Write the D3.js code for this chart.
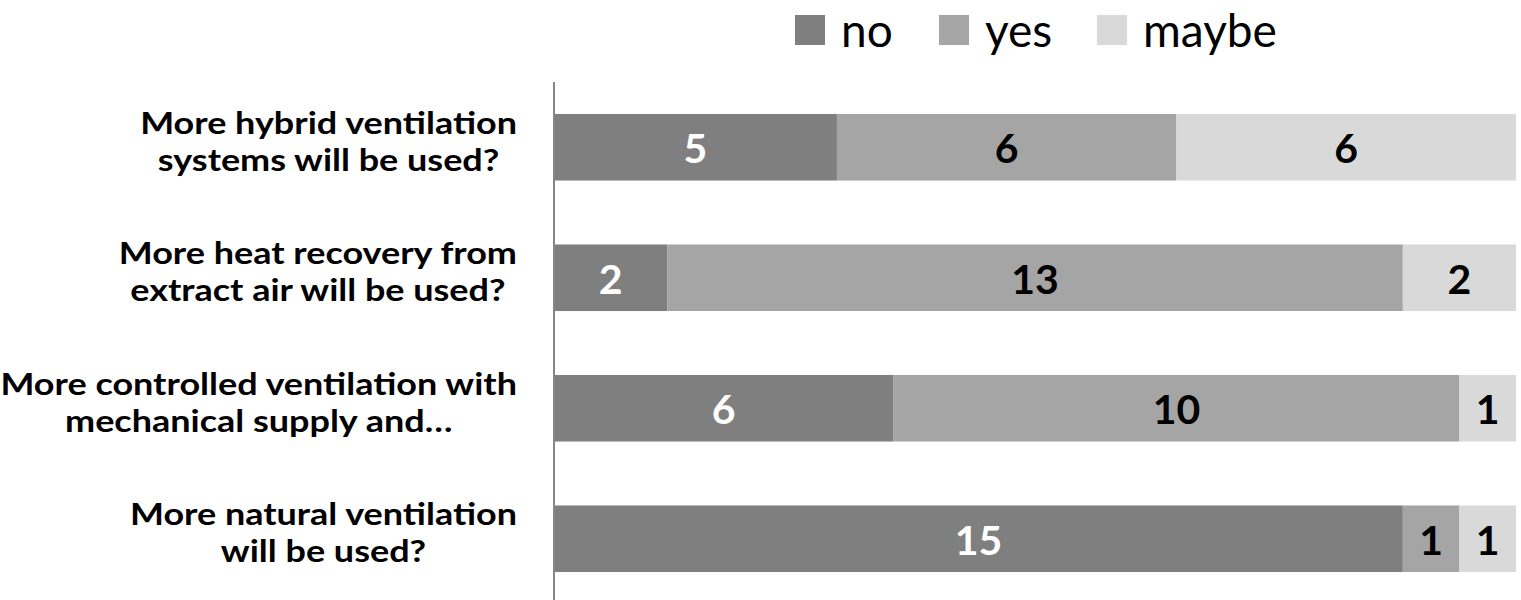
<!DOCTYPE html>
<html>
<head>
<meta charset="utf-8">
<script src="https://cdn.jsdelivr.net/npm/d3@7"></script>
<style>
  html, body { margin: 0; padding: 0; background: #fff; }
  svg { display: block; }
</style>
</head>
<body>
<svg id="chart" width="1521" height="600"></svg>
<script>
// Survey answers per statement
const categories = [
  ["More hybrid ventilation", "systems will be used?"],
  ["More heat recovery from", "extract air will be used?"],
  ["More controlled ventilation with", "mechanical supply and…"],
  ["More natural ventilation", "will be used?"]
];
const seriesNames = ["no", "yes", "maybe"];
const noValues    = [5, 2, 6, 15];
const yesValues   = [6, 13, 10, 1];
const maybeValues = [6, 2, 1, 1];
const xMax = 17;

const colors = { no: "#7f7f7f", yes: "#a5a5a5", maybe: "#d9d9d9" };
const labelColors = { no: "#ffffff", yes: "#000000", maybe: "#000000" };
const FONT = "Lato, 'Open Sans', sans-serif";

const svg = d3.select("#chart");
const plot = { left: 554, right: 1516, top: 82, bottom: 604 };

const rows = categories.map((c, i) => ({
  key: c.join(" "), lines: c,
  no: noValues[i], yes: yesValues[i], maybe: maybeValues[i]
}));

const x = d3.scaleLinear().domain([0, xMax]).range([plot.left, plot.right]);
const y = d3.scaleBand().domain(rows.map(r => r.key))
  .range([plot.top, plot.bottom]).paddingInner(0.49).paddingOuter(0.245);

const stack = d3.stack().keys(seriesNames)(rows);

// stacked segments
const layers = svg.append("g").selectAll("g").data(stack).join("g")
  .attr("fill", d => colors[d.key]);
layers.selectAll("rect").data(d => d.map(p => ({ p, key: d.key }))).join("rect")
  .attr("x", d => x(d.p[0]))
  .attr("y", d => y(d.p.data.key))
  .attr("width", d => x(d.p[1]) - x(d.p[0]))
  .attr("height", y.bandwidth());

// value labels
const lbl = svg.append("g").attr("font-family", FONT).attr("font-weight", 700)
  .attr("font-size", 41).attr("text-anchor", "middle");
stack.forEach(layer => {
  layer.forEach(p => {
    const v = p[1] - p[0];
    lbl.append("text")
      .attr("x", (x(p[0]) + x(p[1])) / 2)
      .attr("y", y(p.data.key) + y.bandwidth() / 2 + 16)
      .attr("fill", labelColors[layer.key])
      .text(v);
  });
});

// category axis
svg.append("g").attr("transform", `translate(${plot.left},0)`)
  .call(d3.axisLeft(y).tickSize(0).tickFormat(""))
  .call(g => g.select(".domain").attr("stroke", "#868686").attr("stroke-width", 2)
    .attr("d", `M0,${plot.top}V${plot.bottom}`));

// wrapped category labels, centred as a block ending near the axis
// (slightly widened glyphs to mimic a broad bold face)
const labelRight = 517, lineGap = 37, widen = 1.18;
const catG = svg.append("g")
  .attr("transform", `translate(${labelRight},0) scale(${widen},1)`)
  .attr("font-family", FONT).attr("font-weight", 700)
  .attr("font-size", 30.5).attr("fill", "#000").attr("text-anchor", "middle");
rows.forEach(r => {
  const cy = y(r.key) + y.bandwidth() / 2;
  const texts = r.lines.map((ln, j) => catG.append("text")
    .attr("y", cy + (j - (r.lines.length - 1) / 2) * lineGap + 5).text(ln));
  const w = d3.max(texts, t => t.node().getComputedTextLength());
  texts.forEach(t => t.attr("x", -w / 2));
});

// legend
const legend = svg.append("g").attr("font-family", FONT).attr("font-size", 46);
const legendX = [795, 939, 1097];
seriesNames.forEach((s, i) => {
  legend.append("rect").attr("x", legendX[i]).attr("y", 15).attr("width", 30).attr("height", 30)
    .attr("fill", colors[s]);
  legend.append("text").attr("x", legendX[i] + 46).attr("y", 47).attr("fill", "#000").text(s);
});
</script>
</body>
</html>
